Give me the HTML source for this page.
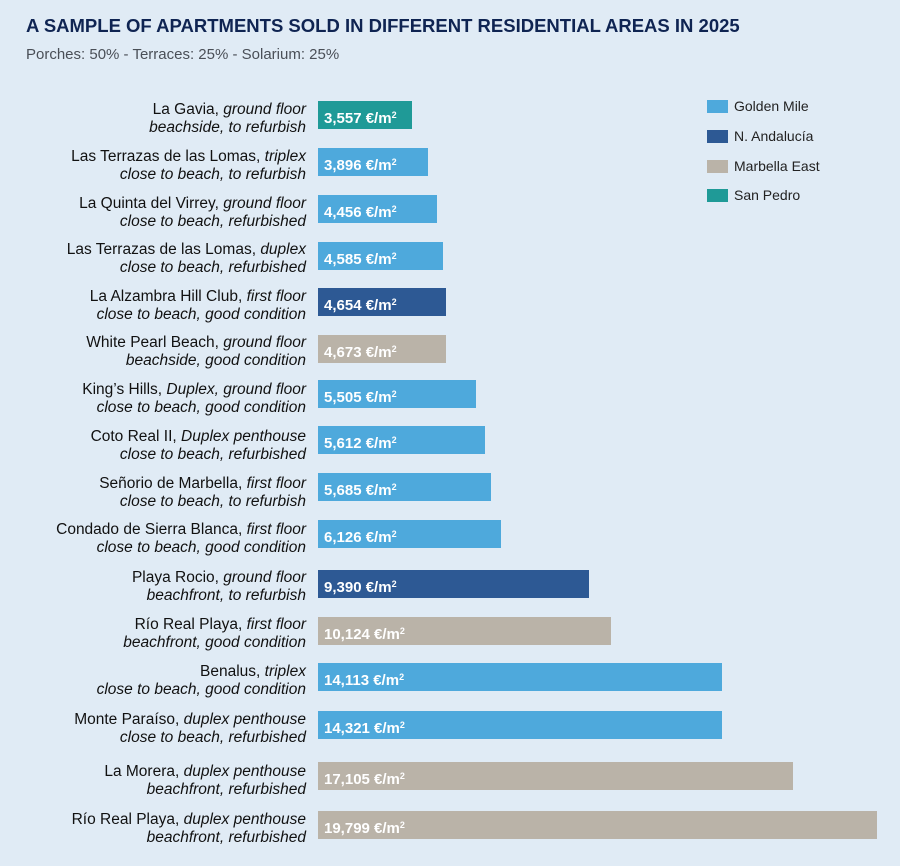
<!DOCTYPE html>
<html><head><meta charset="utf-8"><style>
body{margin:0;width:900px;height:866px;background:#e0ebf5;font-family:"Liberation Sans",sans-serif;position:relative;overflow:hidden}
.t{position:absolute;left:26px;top:15px;font-size:18.5px;font-weight:bold;color:#0f2452;white-space:nowrap}
.s{position:absolute;left:26px;top:46px;font-size:15px;color:#4a4f57}
.l{position:absolute;right:594px;text-align:right;font-size:15.5px;line-height:18px;color:#111;white-space:nowrap}
.b{position:absolute;left:318px;height:28px;color:#fff;font-weight:bold;font-size:15px;line-height:28px;padding-left:6px;box-sizing:border-box;white-space:nowrap}
.b sup{font-size:9px;vertical-align:5px}
.g{background:#4ea9dc}.n{background:#2d5994}.m{background:#bab3a8}.p{background:#1f9a97}
.lg{position:absolute;left:707px;width:21px;height:13px}
.lt{position:absolute;left:734px;font-size:14px;color:#222}
</style></head><body>
<div class="t">A SAMPLE OF APARTMENTS SOLD IN DIFFERENT RESIDENTIAL AREAS IN 2025</div>
<div class="s">Porches: 50% - Terraces: 25% - Solarium: 25%</div>

<div class="lg g" style="top:100px"></div><div class="lt" style="top:98px">Golden Mile</div>
<div class="lg n" style="top:130px"></div><div class="lt" style="top:128px">N. Andalucía</div>
<div class="lg m" style="top:160px"></div><div class="lt" style="top:158px">Marbella East</div>
<div class="lg p" style="top:189px"></div><div class="lt" style="top:187px">San Pedro</div>

<div class="l" style="top:101px">La Gavia, <i>ground floor</i><br><i>beachside, to refurbish</i></div>
<div class="b p" style="top:101px;width:94px">3,557 €/m<sup>2</sup></div>
<div class="l" style="top:148px">Las Terrazas de las Lomas, <i>triplex</i><br><i>close to beach, to refurbish</i></div>
<div class="b g" style="top:148px;width:110px">3,896 €/m<sup>2</sup></div>
<div class="l" style="top:195px">La Quinta del Virrey, <i>ground floor</i><br><i>close to beach, refurbished</i></div>
<div class="b g" style="top:195px;width:119px">4,456 €/m<sup>2</sup></div>
<div class="l" style="top:241px">Las Terrazas de las Lomas, <i>duplex</i><br><i>close to beach, refurbished</i></div>
<div class="b g" style="top:242px;width:125px">4,585 €/m<sup>2</sup></div>
<div class="l" style="top:288px">La Alzambra Hill Club, <i>first floor</i><br><i>close to beach, good condition</i></div>
<div class="b n" style="top:288px;width:128px">4,654 €/m<sup>2</sup></div>
<div class="l" style="top:334px">White Pearl Beach, <i>ground floor</i><br><i>beachside, good condition</i></div>
<div class="b m" style="top:335px;width:128px">4,673 €/m<sup>2</sup></div>
<div class="l" style="top:381px">King’s Hills, <i>Duplex, ground floor</i><br><i>close to beach, good condition</i></div>
<div class="b g" style="top:380px;width:158px">5,505 €/m<sup>2</sup></div>
<div class="l" style="top:428px">Coto Real II, <i>Duplex penthouse</i><br><i>close to beach, refurbished</i></div>
<div class="b g" style="top:426px;width:167px">5,612 €/m<sup>2</sup></div>
<div class="l" style="top:475px">Señorio de Marbella, <i>first floor</i><br><i>close to beach, to refurbish</i></div>
<div class="b g" style="top:473px;width:173px">5,685 €/m<sup>2</sup></div>
<div class="l" style="top:521px">Condado de Sierra Blanca, <i>first floor</i><br><i>close to beach, good condition</i></div>
<div class="b g" style="top:520px;width:183px">6,126 €/m<sup>2</sup></div>
<div class="l" style="top:569px">Playa Rocio, <i>ground floor</i><br><i>beachfront, to refurbish</i></div>
<div class="b n" style="top:570px;width:271px">9,390 €/m<sup>2</sup></div>
<div class="l" style="top:616px">Río Real Playa, <i>first floor</i><br><i>beachfront, good condition</i></div>
<div class="b m" style="top:617px;width:293px">10,124 €/m<sup>2</sup></div>
<div class="l" style="top:663px">Benalus, <i>triplex</i><br><i>close to beach, good condition</i></div>
<div class="b g" style="top:663px;width:404px">14,113 €/m<sup>2</sup></div>
<div class="l" style="top:711px">Monte Paraíso, <i>duplex penthouse</i><br><i>close to beach, refurbished</i></div>
<div class="b g" style="top:711px;width:404px">14,321 €/m<sup>2</sup></div>
<div class="l" style="top:763px">La Morera, <i>duplex penthouse</i><br><i>beachfront, refurbished</i></div>
<div class="b m" style="top:762px;width:475px">17,105 €/m<sup>2</sup></div>
<div class="l" style="top:811px">Río Real Playa, <i>duplex penthouse</i><br><i>beachfront, refurbished</i></div>
<div class="b m" style="top:811px;width:559px">19,799 €/m<sup>2</sup></div>
</body></html>
